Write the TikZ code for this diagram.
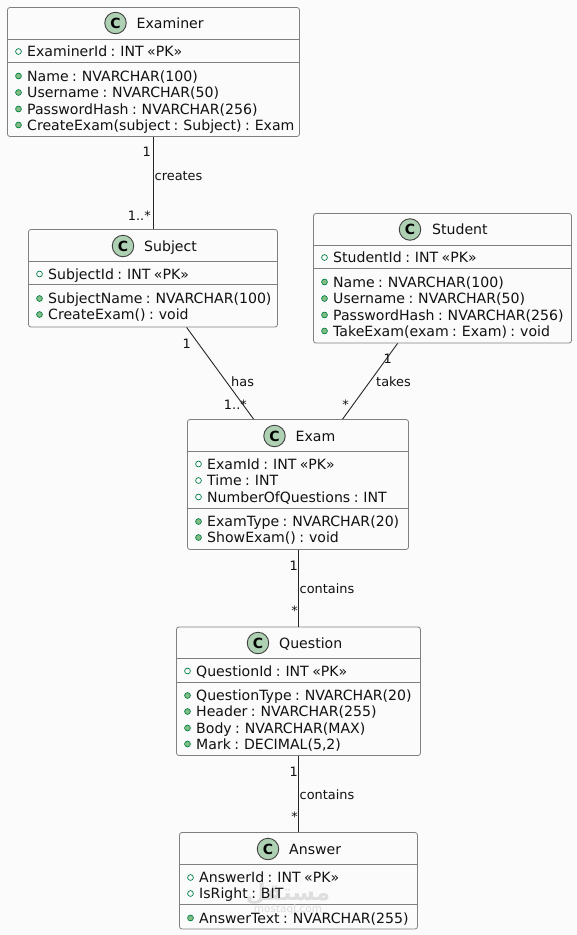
\documentclass[tikz,border=0pt]{standalone}
\usepackage{fontspec}
\setmainfont[WordSpace=0.77]{DejaVu Sans}
\newfontfamily\arabicwm[Script=Arabic]{DejaVu Sans}
\TeXXeTstate=1
\usetikzlibrary{calc}
\definecolor{bgc}{HTML}{FBFBFB}
\definecolor{boxc}{HTML}{7F7F7F}
\definecolor{cfill}{HTML}{ADD1B2}
\definecolor{dotfill}{HTML}{84BE84}
\definecolor{dotline}{HTML}{038048}
\definecolor{txtc}{HTML}{111111}
\newcount\autoid
\newcommand{\stepid}{\global\advance\autoid by 1 }
\tikzset{
  x=1pt,y=-1pt,
  classbox/.style={draw=boxc,line width=0.8pt,rounded corners=2.5pt,inner sep=0pt,fill=bgc},
  sepline/.style={draw=boxc,line width=0.8pt},
  link/.style={draw=black!85,line width=0.9pt},
  member/.style={anchor=base west,inner sep=0pt,font=\fontsize{14.1}{15}\selectfont,text=txtc},
  titletext/.style={anchor=base west,inner sep=0pt,font=\fontsize{14.1}{15}\selectfont,text=txtc},
  lab/.style={inner sep=0pt,font=\fontsize{12.9}{14}\selectfont,text=txtc},
  badge/.style={circle,draw=black!75,line width=0.9pt,fill=cfill,minimum size=21.5pt,inner sep=0pt,font=\fontsize{14}{14}\bfseries\selectfont,text=black},
  pubdot/.style={circle,draw=dotline,line width=0.7pt,fill=dotfill,minimum size=5.8pt,inner sep=0pt},
  fielddot/.style={circle,draw=dotline,line width=0.7pt,fill=none,minimum size=5.8pt,inner sep=0pt},
}
% name, x0, y0, x1, y1, sep1, sep2
\newcommand{\cbox}[7]{%
  \node[classbox,minimum width=#4pt-#2pt,minimum height=#5pt-#3pt] (#1) at ({(#2+#4)/2},{(#3+#5)/2}) {};
  \draw[sepline] ($(#1.north west)+(0,#6-#3)$) -- ($(#1.north east)+(0,#6-#3)$);
  \draw[sepline] ($(#1.north west)+(0,#7-#3)$) -- ($(#1.north east)+(0,#7-#3)$);
}
% badge x, y, text x, text
\newcommand{\ctitle}[4]{%
  \stepid\node[badge] (n\the\autoid) at (#1,#2) {C};
  \stepid\node[titletext] (n\the\autoid) at (#3,#2+5) {#4};
}
% box left, center y, style, text
\newcommand{\mem}[4]{%
  \stepid\node[#3] (n\the\autoid) at (#1+11,#2) {};
  \stepid\node[member] (n\the\autoid) at (#1+19.5,#2+5) {#4};
}
\newcommand{\lbl}[4]{\stepid\node[lab,anchor=#3] (n\the\autoid) at (#1,#2) {#4};}
\begin{document}
\begin{tikzpicture}
\useasboundingbox (0,0) rectangle (577,935);
\fill[bgc] (0,0) rectangle (577,935);

\cbox{examiner}{7.5}{7.5}{299.5}{136.5}{39.5}{63}
\cbox{subject}{28.5}{229.5}{277.5}{327}{261.5}{285}
\cbox{student}{313.5}{213.5}{571.5}{343}{245.5}{269}
\cbox{exam}{187.5}{419.5}{408.5}{549.5}{451.5}{508.5}
\cbox{question}{176.5}{627}{420.5}{755.5}{658.5}{683}
\cbox{answer}{179.5}{832.5}{417.5}{929}{864.5}{905}

\draw[link] (examiner.south -| subject.north) -- (subject.north);
\draw[link] ($(subject.south west)+(158.5,0)$) -- ($(exam.north west)+(66.5,0)$);
\draw[link] ($(student.south west)+(84.5,0)$) -- ($(exam.north west)+(155.5,0)$);
\draw[link] (exam.south) -- (exam.south |- question.north);
\draw[link] (exam.south |- question.south) -- (exam.south |- answer.north);

% Watermark, under the member text
\node[inner sep=0pt,text=black!13,font=\arabicwm\fontsize{23}{23}\bfseries\selectfont] (wm1) at (288,894) {\beginR مستقل\endR};
\node[inner sep=0pt,text=black!13,font=\fontsize{10.5}{11}\selectfont] (wm2) at (288,910) {mostaql.com};

% Examiner
\ctitle{115.5}{23}{136.5}{Examiner}
\mem{7.5}{51.5}{fielddot}{ExaminerId : INT «PK»}
\mem{7.5}{76}{pubdot}{Name : NVARCHAR(100)}
\mem{7.5}{92.5}{pubdot}{Username : NVARCHAR(50)}
\mem{7.5}{109}{pubdot}{PasswordHash : NVARCHAR(256)}
\mem{7.5}{125}{pubdot}{CreateExam(subject : Subject) : Exam}

% Subject
\ctitle{123}{246}{144}{Subject}
\mem{28.5}{274}{fielddot}{SubjectId : INT «PK»}
\mem{28.5}{298.5}{pubdot}{SubjectName : NVARCHAR(100)}
\mem{28.5}{314.5}{pubdot}{CreateExam() : void}

% Student
\ctitle{410}{229.5}{432}{Student}
\mem{313.5}{257.5}{fielddot}{StudentId : INT «PK»}
\mem{313.5}{282}{pubdot}{Name : NVARCHAR(100)}
\mem{313.5}{298.5}{pubdot}{Username : NVARCHAR(50)}
\mem{313.5}{315}{pubdot}{PasswordHash : NVARCHAR(256)}
\mem{313.5}{331}{pubdot}{TakeExam(exam : Exam) : void}

% Exam
\ctitle{274.5}{436}{295.5}{Exam}
\mem{187.5}{464}{fielddot}{ExamId : INT «PK»}
\mem{187.5}{480.5}{fielddot}{Time : INT}
\mem{187.5}{497}{fielddot}{NumberOfQuestions : INT}
\mem{187.5}{521.5}{pubdot}{ExamType : NVARCHAR(20)}
\mem{187.5}{537.5}{pubdot}{ShowExam() : void}

% Question
\ctitle{258}{643}{279}{Question}
\mem{176.5}{671}{fielddot}{QuestionId : INT «PK»}
\mem{176.5}{695.5}{pubdot}{QuestionType : NVARCHAR(20)}
\mem{176.5}{711.5}{pubdot}{Header : NVARCHAR(255)}
\mem{176.5}{728}{pubdot}{Body : NVARCHAR(MAX)}
\mem{176.5}{744}{pubdot}{Mark : DECIMAL(5,2)}

% Answer
\ctitle{268}{849}{289}{Answer}
\mem{179.5}{877.5}{fielddot}{AnswerId : INT «PK»}
\mem{179.5}{893.5}{fielddot}{IsRight : BIT}
\mem{179.5}{918}{pubdot}{AnswerText : NVARCHAR(255)}

% Relation labels
\lbl{151}{156}{base east}{1}
\lbl{154.5}{180}{base west}{creates}
\lbl{151}{220}{base east}{1..*}
\lbl{191}{348}{base east}{1}
\lbl{231}{386}{base west}{has}
\lbl{247}{409}{base east}{1..*}
\lbl{392}{363}{base east}{1}
\lbl{376}{386}{base west}{takes}
\lbl{349}{409}{base east}{*}
\lbl{298}{570}{base east}{1}
\lbl{299.5}{593}{base west}{contains}
\lbl{298}{615}{base east}{*}
\lbl{298}{776}{base east}{1}
\lbl{299.5}{799}{base west}{contains}
\lbl{298}{821}{base east}{*}
\end{tikzpicture}
\end{document}
